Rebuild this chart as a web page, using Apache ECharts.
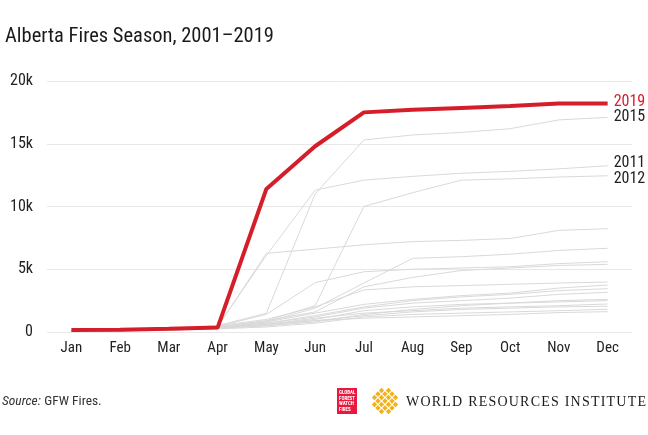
<!DOCTYPE html>
<html><head><meta charset="utf-8">
<script src="https://cdn.jsdelivr.net/npm/echarts@6/dist/echarts.min.js"></script>
<style>html,body{margin:0;padding:0;background:#fff}#c{width:648px;height:435px}</style>
</head><body><div id="c"></div>
<script>
// ---- data ----
const months = ['Jan','Feb','Mar','Apr','May','Jun','Jul','Aug','Sep','Oct','Nov','Dec'];
const yTickLabels = ['0','5k','10k','15k','20k'];
const s2019 = [150,180,250,350,11400,14800,17500,17700,17850,18000,18200,18200];
const s2015 = [100,150,250,500,1500,11000,15300,15700,15900,16200,16900,17100];
const s2011 = [100,150,250,450,6100,11300,12100,12400,12650,12800,13000,13250];
const s2012 = [50,100,200,400,900,2100,10000,11100,12100,12200,12350,12450];
const otherA = [100,150,250,400,6270,6600,6950,7200,7300,7450,8100,8230];
const otherB = [100,150,200,400,800,1900,3900,5870,6000,6200,6500,6670];
const otherC = [100,150,250,450,1400,3930,4800,5000,5100,5200,5450,5600];
const otherD = [50,100,200,400,900,1600,3600,4350,4900,5100,5300,5390];
const otherE = [100,150,250,500,1000,2000,3350,3600,3700,3800,3900,3980];
const otherF = [100,150,250,450,800,1500,2200,2600,2900,3100,3500,3740];
const otherG = [50,100,200,400,700,1200,1900,2300,2500,2700,3000,3160];
const otherH = [50,100,150,350,600,1000,1700,2000,2200,2300,2500,2600];
const otherI = [100,150,200,300,500,800,1400,1800,2100,2300,2400,2500];
const otherJ = [50,100,150,300,600,1100,1500,1700,1900,2000,2100,2230];
const otherK = [50,100,150,250,400,700,1200,1400,1500,1600,1700,1810];
const otherL = [50,100,150,300,600,900,1100,1200,1300,1400,1550,1620];
const otherM = [50,100,200,350,700,1300,2000,2500,2800,3000,3300,3450];
const otherN = [50,100,150,300,500,900,1300,1600,1800,1900,2000,2050];
const greyLines = [otherA,otherB,otherC,otherD,otherE,otherF,otherG,otherH,otherI,otherJ,otherK,otherL,otherM,otherN];

// ---- chart ----
const FONT = "'Roboto Condensed','Roboto',sans-serif";
const chart = echarts.init(document.getElementById('c'), null, {renderer:'canvas'});
const GREY = '#d9d9d9';
const RED = '#d41f2b';

function greySeries(data, label, off){
  const s = {type:'line', data, symbol:'none', silent:true,
    lineStyle:{color:GREY, width:1}, z:2};
  if(label){
    s.endLabel = {show:true, formatter:label, color:'#222', fontSize:16, fontFamily:FONT, distance:6, offset:[0,off]};
  }
  return s;
}
const series = greyLines.map(d=>greySeries(d));
series.push(greySeries(s2012,'2012',3));
series.push(greySeries(s2011,'2011',-3));
series.push(greySeries(s2015,'2015',0));
series.push({type:'line', data:s2019, symbol:'none', silent:true, z:5,
  lineStyle:{color:RED, width:4},
  endLabel:{show:true, formatter:'2019', color:RED, fontSize:16, fontFamily:FONT, distance:6, offset:[0,-2]}});

// WRI text placement with letter spacing
const wriText = 'WORLD RESOURCES INSTITUTE';
const wriFont = "14px 'Liberation Serif','DejaVu Serif',serif";
const mctx = document.createElement('canvas').getContext('2d');
mctx.font = wriFont;
const natW = mctx.measureText(wriText).width;
const targetW = 240;
const sp = (targetW - natW)/(wriText.length-1);
const wriChars = [];
let cx = 406;
for(const ch of wriText){
  wriChars.push({type:'text', left:cx, top:395, style:{text:ch, font:wriFont, fill:'#1a1a1a'}});
  cx += mctx.measureText(ch).width + sp;
}
// WRI lattice icon (diamonds)
const icon = [];
const icx = 385, icy = 401, st = 3.5, h = 2.7;
for(let i=-2;i<=2;i++){
  for(let j=-2;j<=2;j++){
    if(Math.abs(i)+Math.abs(j)>3) continue;
    const px = icx + (i - j)*st;
    const py = icy + (i + j)*st;
    icon.push({type:'polygon', shape:{points:[[px,py-h],[px+h,py],[px,py+h],[px-h,py]]}, style:{fill:'#f2b21c'}});
  }
}

chart.setOption({
  animation:false,
  backgroundColor:'#fff',
  title:{text:'Alberta Fires Season, 2001–2019', left:0, top:21,
    textStyle:{fontFamily:FONT, fontSize:20.5, fontWeight:'normal', color:'#1a1a1a'}},
  grid:{left:47, right:16, top:81, bottom:103},
  xAxis:{type:'category', data:months, boundaryGap:true,
    axisLine:{show:false}, axisTick:{show:false},
    axisLabel:{color:'#222', fontSize:15, fontFamily:FONT, margin:9}},
  yAxis:{type:'value', min:0, max:20000, interval:5000,
    axisLine:{show:false}, axisTick:{show:false},
    splitLine:{lineStyle:{color:'#e8e8e8', width:1}},
    axisLabel:{color:'#222', fontSize:16, fontFamily:FONT, margin:14,
      formatter:(v)=>yTickLabels[Math.round(v/5000)]}},
  series,
  graphic:[
    {type:'text', left:2, top:395, style:{
      rich:{i:{fontStyle:'italic', fontFamily:FONT, fontSize:13.5, fill:'#333'}, n:{fontFamily:FONT, fontSize:13.5, fill:'#333'}},
      text:'{i|Source:} {n|GFW Fires.}'}},
    {type:'rect', left:337, top:388, shape:{width:20,height:26}, style:{fill:'#e8193f'}},
    {type:'text', left:339, top:390, style:{text:'GLOBAL\nFOREST\nWATCH\nFIRES', font:"bold 5px 'Roboto Condensed',sans-serif", fill:'#fff', lineHeight:5.6}},
    ...icon,
    ...wriChars
  ]
});
</script></body></html>
